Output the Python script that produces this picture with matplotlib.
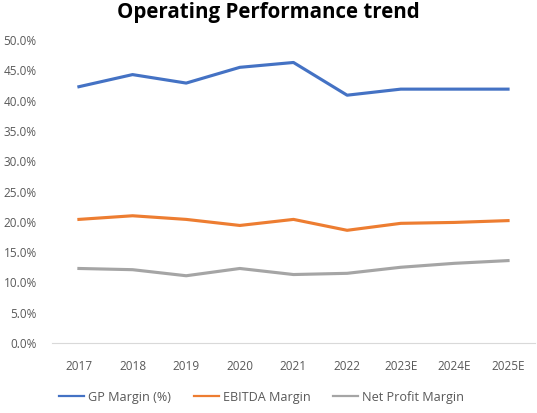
import matplotlib.pyplot as plt
from matplotlib.ticker import PercentFormatter

years = ["2017", "2018", "2019", "2020", "2021", "2022", "2023E", "2024E", "2025E"]
gp_margin = [42.3, 44.3, 42.9, 45.5, 46.3, 40.9, 41.9, 41.9, 41.9]
ebitda_margin = [20.4, 21.0, 20.4, 19.4, 20.4, 18.6, 19.75, 19.9, 20.2]
net_margin = [12.3, 12.1, 11.1, 12.3, 11.3, 11.5, 12.5, 13.15, 13.6]

plt.rcParams["font.family"] = ["Open Sans", "DejaVu Sans"]

fig = plt.figure(figsize=(5.37, 4.13), dpi=100)
ax = fig.add_axes([0.097, 0.1695, 0.899, 0.7335])

x = range(len(years))
ax.plot(x, gp_margin, color="#4472C4", lw=2.25, label="GP Margin (%)")
ax.plot(x, ebitda_margin, color="#ED7D31", lw=2.25, label="EBITDA Margin")
ax.plot(x, net_margin, color="#A5A5A5", lw=2.25, label="Net Profit Margin")

ax.set_xlim(-0.5, len(years) - 0.5)
ax.set_ylim(0, 50)
ax.set_yticks(range(0, 51, 5))
ax.yaxis.set_major_formatter(PercentFormatter(decimals=1))
ax.set_xticks(list(x))
ax.set_xticklabels(years)
ax.tick_params(length=0, labelsize=8.5, labelcolor="#595959")
ax.tick_params(axis="x", pad=12)
ax.tick_params(axis="y", pad=11)
for side in ["top", "right", "left"]:
    ax.spines[side].set_visible(False)
ax.spines["bottom"].set_color("#D9D9D9")

fig.suptitle("Operating Performance trend", y=0.995, fontsize=14.8, fontweight="bold")
leg = fig.legend(loc="lower center", bbox_to_anchor=(0.487, -0.005), ncol=3, frameon=False,
                 fontsize=9.1, labelcolor="#595959", handlelength=2.0, handletextpad=0.3,
                 columnspacing=1.8)
for line in leg.get_lines():
    line.set_linewidth(1.6)

fig.savefig("out.png", dpi=100)
